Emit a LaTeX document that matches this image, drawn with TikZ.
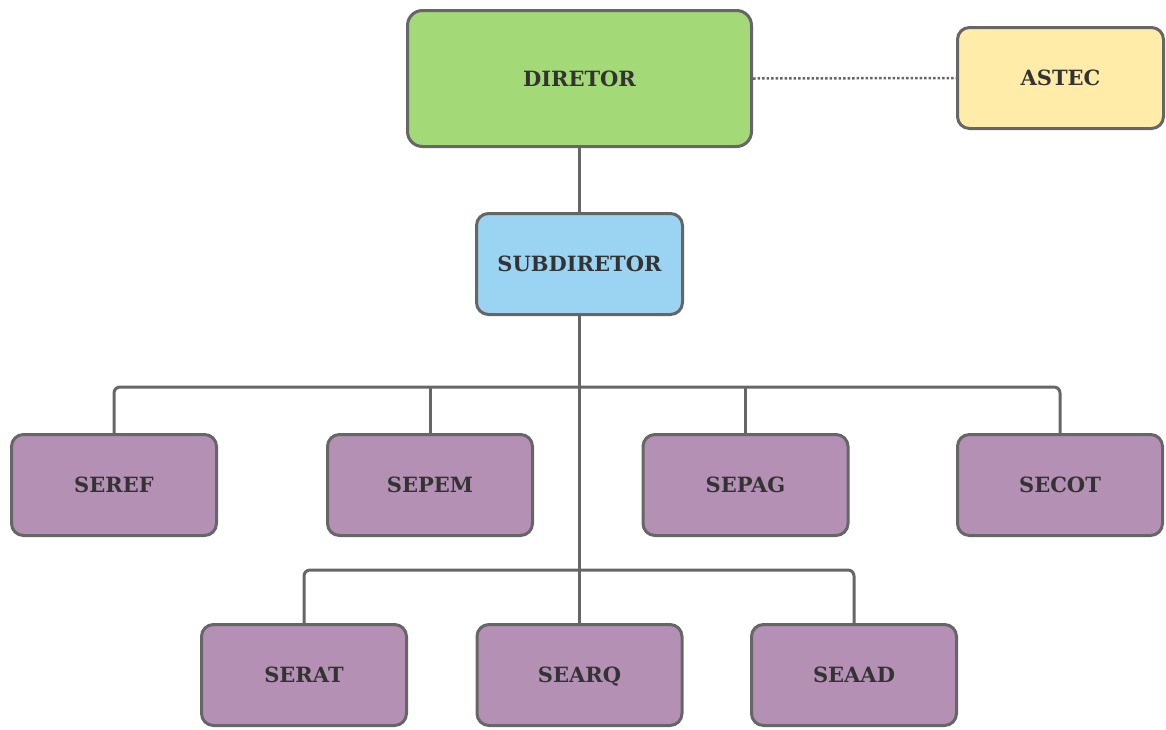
\documentclass[tikz,border=0pt]{standalone}
\usepackage{fontspec}
\setmainfont{DejaVu Serif}
\begin{document}
\begin{tikzpicture}[x=1pt,y=-1pt,
  unit/.style={draw=linegray, line width=3pt, rounded corners=12pt,
    inner sep=0pt, text=txt, text height=15pt, text depth=0pt,
    font=\bfseries\fontsize{21}{25}\selectfont},
  lowbox/.style={unit, fill=purp, minimum width=205pt, minimum height=101pt},
  link/.style={draw=linegray, line width=3pt, rounded corners=6pt}]
\definecolor{linegray}{HTML}{666666}
\definecolor{txt}{HTML}{333333}
\definecolor{grn}{HTML}{A3D977}
\definecolor{yel}{HTML}{FFECA8}
\definecolor{blu}{HTML}{9BD3F2}
\definecolor{purp}{HTML}{B390B4}
\useasboundingbox (0,0) rectangle (1166,729);

% top level
\node[unit, fill=grn, minimum width=344pt, minimum height=136pt, rounded corners=15pt] (dir) at (579.5,78.5) {DIRETOR};
\node[unit, fill=yel, minimum width=206pt, minimum height=101pt] (astec) at (1060.5,78) {ASTEC};
\node[unit, fill=blu, minimum width=206pt, minimum height=101pt] (sub) at (579.5,264) {SUBDIRETOR};

% first row of sections
\node[lowbox] (seref) at (114,485) {SEREF};
\node[lowbox] (sepem) at (430,485) {SEPEM};
\node[lowbox] (sepag) at (745.5,485) {SEPAG};
\node[lowbox] (secot) at (1060,485) {SECOT};

% second row of sections
\node[lowbox] (serat) at (304,675) {SERAT};
\node[lowbox] (searq) at (579.5,675) {SEARQ};
\node[lowbox] (seaad) at (854,675) {SEAAD};

% bus levels
\coordinate (busA) at (579.5,387);
\coordinate (busB) at (579.5,570);

% connectors
\draw[linegray, line width=2.5pt, dotted] (dir.east) -- (astec.west);
\draw[link] (dir.south) -- (sub.north);
\draw[link] (sub.south) -- (searq.north);
\draw[link] (seref.north) |- (busA) -| (secot.north);
\draw[link] (sepem.north) -- (sepem.north |- busA);
\draw[link] (sepag.north) -- (sepag.north |- busA);
\draw[link] (serat.north) |- (busB) -| (seaad.north);
\end{tikzpicture}
\end{document}
